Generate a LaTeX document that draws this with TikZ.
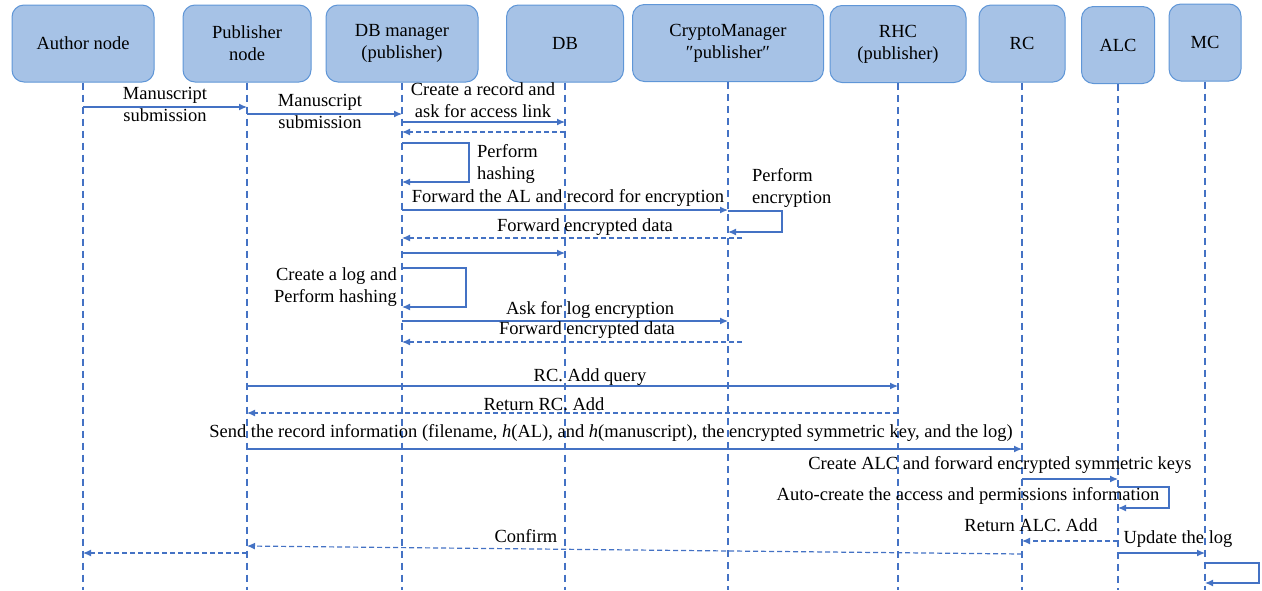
\documentclass[tikz,border=0pt]{standalone}
\usepackage{fontspec}
\setmainfont{Liberation Serif}
\usetikzlibrary{arrows.meta,calc}
\definecolor{boxfill}{RGB}{166,194,230}
\definecolor{boxline}{RGB}{95,150,215}
\definecolor{ln}{RGB}{68,114,196}
\begin{document}
\begin{tikzpicture}[x=1pt,y=-1pt,
  font=\fontsize{18.5}{22}\selectfont,
  actor/.style={draw=boxline, fill=boxfill, rounded corners=12pt, line width=1pt,
    align=center, minimum height=77pt, inner sep=2pt},
  life/.style={draw=ln, dash pattern=on 7pt off 5pt, line width=1.1pt},
  msg/.style={draw=ln, line width=1.2pt, -{Latex[length=8pt,width=7pt]}},
  ret/.style={msg, dash pattern=on 5pt off 3pt},
  lbl/.style={inner sep=0pt, align=center}]
\useasboundingbox (0,0) rectangle (1262,590);

% actors
\node[actor, minimum width=142pt] (author) at (83,43.5) {Author node};
\node[actor, minimum width=128pt] (pub) at (247,43.5) {Publisher\\node};
\node[actor, minimum width=152pt] (dbm) at (402,43.5) {DB manager\\(publisher)};
\node[actor, minimum width=117pt] (db) at (565,43.5) {DB};
\node[actor, minimum width=191pt] (crypto) at (728,43) {CryptoManager\\″publisher″};
\node[actor, minimum width=136pt] (rhc) at (898,44) {RHC\\(publisher)};
\node[actor, minimum width=86pt] (rc) at (1022,43.5) {RC};
\node[actor, minimum width=73pt] (alc) at (1118,45) {ALC};
\node[actor, minimum width=72pt] (mc) at (1205,42.5) {MC};

% lifelines
\foreach \n in {author,pub,dbm,db,crypto,rhc,rc,alc,mc}
  \draw[life] (\n.south) -- (\n.south |- 0,590);

% messages
\draw[msg] (author |- 0,107) -- (pub |- 0,107);
\node[lbl] (l1) at (165,104) {Manuscript\\submission};
\draw[msg] (pub |- 0,114) -- (dbm |- 0,114);
\node[lbl] (l2) at (320,111.5) {Manuscript\\submission};
\draw[msg] (dbm |- 0,122) -- (db |- 0,122);
\node[lbl] (l3) at (483,100) {Create a record and\\ask for access link};
\draw[ret] (db |- 0,132) -- (dbm |- 0,132);

\draw[msg] (dbm |- 0,143) -- ++(67,0) |- (dbm |- 0,182);
\node[lbl, anchor=west, align=left] (l4) at (477,164) {Perform\\hashing};

\draw[msg] (dbm |- 0,210) -- (crypto |- 0,210);
\node[lbl] (l5) at (568,198) {Forward the AL and record for encryption};
\draw[msg] (crypto |- 0,211) -- ++(54,0) |- (crypto |- 0,232);
\node[lbl, anchor=west, align=left] (l6) at (752,188) {Perform\\encryption};
\draw[ret] ($(crypto |- 0,238)+(14,0)$) -- (dbm |- 0,238);
\node[lbl] (l7) at (585,227) {Forward encrypted data};

\draw[msg] (dbm |- 0,253) -- (db |- 0,253);
\draw[msg] (dbm |- 0,268) -- ++(64,0) |- (dbm |- 0,307);
\node[lbl, anchor=east, align=right] (l8) at (397,287) {Create a log and\\Perform hashing};

\draw[msg] (dbm |- 0,321) -- (crypto |- 0,321);
\node[lbl] (l9) at (590,310) {Ask for log encryption};
\draw[ret] ($(crypto |- 0,342)+(14,0)$) -- (dbm |- 0,342);
\node[lbl] (l10) at (587,330) {Forward encrypted data};

\draw[msg] (pub |- 0,386) -- (rhc |- 0,386);
\node[lbl] (l11) at (590,377) {RC. Add query};
\draw[ret] (rhc |- 0,413) -- (pub |- 0,413);
\node[lbl] (l12) at (544,404) {Return RC. Add};

\draw[msg] (pub |- 0,449) -- (rc |- 0,449);
\node[lbl] (l13) at (611,433) {Send the record information (filename, \textit{h}(AL), and \textit{h}(manuscript), the encrypted symmetric key, and the log)};

\draw[msg] (rc |- 0,479) -- (alc |- 0,479);
\node[lbl] (l14) at (1000,465) {Create ALC and forward encrypted symmetric keys};
\draw[msg] (alc |- 0,487) -- ++(51,0) |- (alc |- 0,508);
\node[lbl] (l15) at (968,496) {Auto-create the access and permissions information};

\draw[ret] (alc |- 0,541) -- (rc |- 0,541);
\node[lbl] (l16) at (1031,525) {Return ALC. Add};
\draw[msg] (alc |- 0,553) -- (mc |- 0,553);
\node[lbl] (l17) at (1178,539) {Update the log};
\draw[msg] (mc |- 0,563) -- ++(54,0) |- (mc |- 0,583);

\draw[ret] (rc |- 0,554) -- (pub |- 0,546);
\node[lbl] (l18) at (526,536) {Confirm};
\draw[ret] (pub |- 0,553) -- (author |- 0,553);
\end{tikzpicture}
\end{document}
